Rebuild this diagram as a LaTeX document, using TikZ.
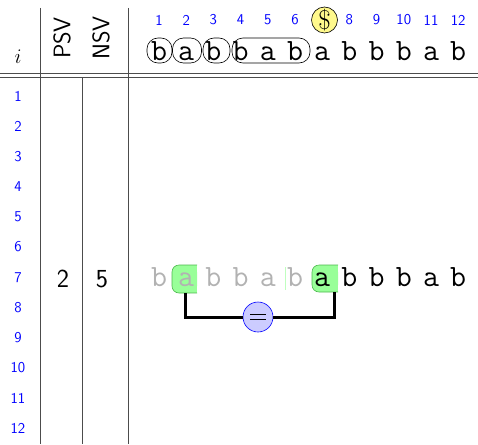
\documentclass[tikz,border=0pt]{standalone}
\begin{document}
\begin{tikzpicture}[x=1pt,y=-1pt,
  idx/.style={text=blue, font=\sffamily\fontsize{15}{15}\selectfont, inner sep=0pt},
  ch/.style={font=\ttfamily\fontsize{31}{31}\selectfont, inner sep=0pt, anchor=base},
  gch/.style={ch, text=black!30},
  grp/.style={draw=black, rounded corners=11pt, minimum height=25pt, inner sep=0pt, line width=0.6pt},
  rule/.style={draw=black!70, line width=0.8pt},
  hl/.style={fill=green!40!white, draw=green!60!black!70, line width=0.6pt},
  num/.style={font=\sffamily\fontsize{26}{26}\selectfont, inner sep=0pt},
  hdr/.style={font=\sffamily\fontsize{24}{24}\selectfont, inner sep=0pt, rotate=90},
  dollar/.style={circle, draw=black, fill=yellow!45, line width=0.6pt, minimum size=26pt, inner sep=0pt, font=\fontsize{27}{27}\selectfont},
  eqc/.style={circle, draw=blue, fill=blue!20, line width=0.6pt, minimum size=30pt, inner sep=0pt},
  brk/.style={line width=3pt, black}
]
\useasboundingbox (0,0) rectangle (478,444);

% table rules
\draw[rule] (0,73) -- (478,73);
\draw[rule] (0,77) -- (478,77);
\draw[rule] (40,8) -- (40,444);
\draw[rule] (82,77) -- (82,444);
\draw[rule] (128,8) -- (128,444);

% header
\node[font=\fontsize{22}{22}\selectfont, inner sep=0pt] (ihead) at (18,57) {$i$};
\node[hdr] (psv) at (62,38) {PSV};
\node[hdr] (nsv) at (101,38) {NSV};

% top index numbers
\foreach \k in {1,...,6,8,9,10,11,12} {
  \node[idx] (t\k) at ({159+27.2*(\k-1)},20) {\k};
}
\node[dollar] (dol) at (324.5,20) {\$};

% groups
\node[grp, minimum width=25pt] (g1) at (159.5,50.5) {};
\node[grp, minimum width=29pt] (g2) at (187,50.5) {};
\node[grp, minimum width=27pt] (g3) at (216.5,50.5) {};
\node[grp, minimum width=78pt] (g4) at (271,50.5) {};

% top string
\foreach \c [count=\k] in {b,a,b,b,a,b,a,b,b,b,a,b} {
  \node[ch] (s\k) at ({159+27.2*(\k-1)},60) {\c};
}

% row numbers
\foreach \k in {1,...,12} {
  \node[idx] (r\k) at (18,{96+30.2*(\k-1)}) {\k};
}

% row 7 values
\node[num] (psv7) at (63,279) {2};
\node[num] (nsv7) at (102,279) {5};

% highlight boxes (rounded on the left, open on the right)
\fill[green!40!white, rounded corners=7pt] (172,265) rectangle (197,293);
\fill[green!40!white] (185,265) rectangle (197,293);
\draw[green!60!black!70, line width=0.6pt, rounded corners=7pt] (197,265) -- (172,265) -- (172,293) -- (197,293);
\fill[green!40!white, rounded corners=7pt] (312,265) rectangle (338,292);
\fill[green!40!white] (325,265) rectangle (338,292);
\draw[green!60!black!70, line width=0.6pt, rounded corners=7pt] (338,265) -- (312,265) -- (312,292) -- (338,292);
\coordinate (g2b) at (185,293);
\coordinate (g7b) at (334,292);
\draw[green!25!white, line width=0.8pt] (285,267) -- (285,290);

% row 7 string
\foreach \c [count=\k] in {b,a,b,b,a,b} {
  \node[gch] (u\k) at ({159+27.2*(\k-1)},286) {\c};
}
\foreach \c [count=\k from 7] in {a,b,b,b,a,b} {
  \node[ch] (u\k) at ({159+27.2*(\k-1)},286) {\c};
}

% bracket
\node[eqc] (eq) at (258,317) {};
\draw[brk] (g2b) |- (eq.west);
\draw[brk] (eq.east) -| (g7b);
\draw[black, line width=1pt] ([xshift=-8pt,yshift=-2.5pt]eq.center) -- ([xshift=8pt,yshift=-2.5pt]eq.center);
\draw[black, line width=1pt] ([xshift=-8pt,yshift=2.5pt]eq.center) -- ([xshift=8pt,yshift=2.5pt]eq.center);
\end{tikzpicture}
\end{document}
